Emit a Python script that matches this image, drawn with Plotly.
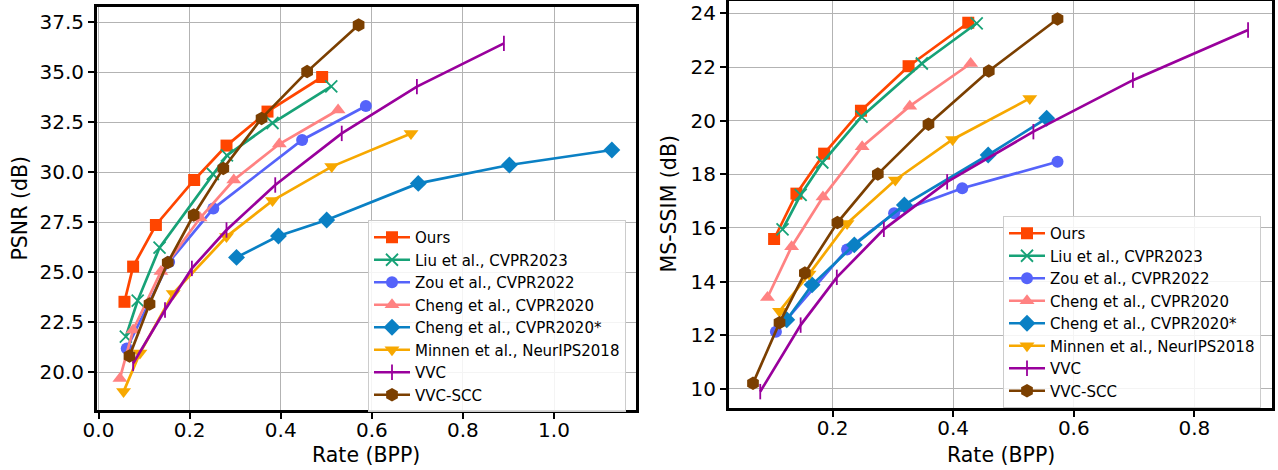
import plotly.graph_objects as go

# ---------------- data (left: PSNR, right: MS-SSIM) ----------------
names = ["Ours", "Liu et al., CVPR2023", "Zou et al., CVPR2022", "Cheng et al., CVPR2020",
         "Cheng et al., CVPR2020*", "Minnen et al., NeurIPS2018", "VVC", "VVC-SCC"]

ours_l_x = [0.057, 0.076, 0.126, 0.210, 0.281, 0.371, 0.491]
ours_l_y = [23.51, 25.27, 27.35, 29.60, 31.32, 33.02, 34.75]
liu_l_x = [0.060, 0.086, 0.134, 0.251, 0.282, 0.382, 0.511]
liu_l_y = [21.77, 23.57, 26.22, 29.90, 30.83, 32.45, 34.28]
zou_l_x = [0.062, 0.155, 0.252, 0.447, 0.587]
zou_l_y = [21.18, 25.50, 28.17, 31.60, 33.30]
cheng_l_x = [0.047, 0.076, 0.137, 0.223, 0.297, 0.397, 0.526]
cheng_l_y = [19.68, 22.10, 25.02, 27.70, 29.60, 31.40, 33.10]
chengs_l_x = [0.303, 0.395, 0.501, 0.702, 0.902, 1.127]
chengs_l_y = [25.73, 26.80, 27.60, 29.43, 30.35, 31.10]
minnen_l_x = [0.055, 0.091, 0.164, 0.281, 0.382, 0.512, 0.686]
minnen_l_y = [19.02, 20.95, 23.93, 26.77, 28.57, 30.27, 31.93]
vvc_l_x = [0.076, 0.146, 0.205, 0.281, 0.388, 0.534, 0.699, 0.890]
vvc_l_y = [20.43, 23.10, 25.18, 27.10, 29.35, 31.93, 34.27, 36.43]
scc_l_x = [0.068, 0.112, 0.152, 0.209, 0.274, 0.358, 0.458, 0.571]
scc_l_y = [20.80, 23.40, 25.47, 27.85, 30.18, 32.68, 35.02, 37.35]

ours_r_x = [0.103, 0.140, 0.186, 0.247, 0.326, 0.425]
ours_r_y = [15.59, 17.28, 18.77, 20.37, 22.03, 23.65]
liu_r_x = [0.117, 0.147, 0.183, 0.248, 0.348, 0.439]
liu_r_y = [15.95, 17.23, 18.44, 20.15, 22.13, 23.63]
zou_r_x = [0.106, 0.224, 0.302, 0.415, 0.573]
zou_r_y = [12.13, 15.20, 16.55, 17.48, 18.47]
cheng_r_x = [0.092, 0.132, 0.184, 0.249, 0.328, 0.429]
cheng_r_y = [13.41, 15.30, 17.15, 19.03, 20.54, 22.13]
chengs_r_x = [0.124, 0.166, 0.236, 0.319, 0.458, 0.555]
chengs_r_y = [12.58, 13.88, 15.37, 16.86, 18.72, 20.09]
minnen_r_x = [0.112, 0.161, 0.224, 0.304, 0.399, 0.527]
minnen_r_y = [12.90, 14.28, 16.17, 17.79, 19.30, 20.83]
vvc_r_x = [0.080, 0.147, 0.207, 0.285, 0.390, 0.533, 0.698, 0.889]
vvc_r_y = [9.90, 12.38, 14.16, 15.95, 17.72, 19.59, 21.51, 23.38]
scc_r_x = [0.068, 0.112, 0.154, 0.208, 0.275, 0.359, 0.459, 0.573]
scc_r_y = [10.21, 12.47, 14.32, 16.20, 18.01, 19.87, 21.85, 23.79]

left_x = [ours_l_x, liu_l_x, zou_l_x, cheng_l_x, chengs_l_x, minnen_l_x, vvc_l_x, scc_l_x]
left_y = [ours_l_y, liu_l_y, zou_l_y, cheng_l_y, chengs_l_y, minnen_l_y, vvc_l_y, scc_l_y]
right_x = [ours_r_x, liu_r_x, zou_r_x, cheng_r_x, chengs_r_x, minnen_r_x, vvc_r_x, scc_r_x]
right_y = [ours_r_y, liu_r_y, zou_r_y, cheng_r_y, chengs_r_y, minnen_r_y, vvc_r_y, scc_r_y]

x_title = "Rate (BPP)"
y_title_left = "PSNR (dB)"
y_title_right = "MS-SSIM (dB)"

# ---------------- styles ----------------
colors = ["#ff4500", "#17a277", "#5563fa", "#ff8282", "#0a80c4", "#f7a800", "#99009c", "#7b3f00"]
symbols = ["square", "x-thin-open", "circle", "triangle-up", "diamond",
           "triangle-down", "line-ns-open", "hexagon"]
sizes = [12, 12, 12, 13, 13, 13, 11, 13.5]

W, H = 1278, 470
fig = go.Figure()


def add_set(xs, ys, xa, ya, legend):
    for i in range(len(names)):
        open_sym = symbols[i].endswith("open")
        fig.add_trace(go.Scatter(
            x=xs[i], y=ys[i], name=names[i], mode="lines+markers",
            xaxis=xa, yaxis=ya, legend=legend,
            line=dict(color=colors[i], width=2.7),
            marker=dict(symbol=symbols[i], size=sizes[i], color=colors[i],
                        line=dict(color=colors[i], width=1.8 if open_sym else 0)),
        ))


add_set(left_x, left_y, "x", "y", "legend")
add_set(right_x, right_y, "x2", "y2", "legend2")

font_family = "DejaVu Sans"
axis_common = dict(
    showline=True, linewidth=3, linecolor="black", mirror=True,
    ticks="outside", ticklen=6, tickwidth=2, tickcolor="black",
    showgrid=True, gridcolor="#b3b3b3", gridwidth=1.2, zeroline=False,
    tickfont=dict(family=font_family, size=20, color="black"),
    automargin=False,
)
title_font = dict(family=font_family, size=20.5, color="black")

legend_common = dict(
    bgcolor="rgba(255,255,255,0.85)", bordercolor="#cccccc", borderwidth=1,
    font=dict(family=font_family, size=15, color="black"),
    xanchor="left", yanchor="top", tracegroupgap=0, itemwidth=36,
)

lx0, lx1, ly0, ly1 = 97, 636, 7, 410
rx0, rx1, ry0, ry1 = 729, 1272, 1, 408

fig.update_layout(
    width=W, height=H,
    margin=dict(l=0, r=0, t=0, b=0),
    paper_bgcolor="white", plot_bgcolor="white",
    font=dict(family=font_family, color="black"),
    xaxis=dict(domain=[lx0 / W, lx1 / W], range=[-0.0033, 1.180], tick0=0, dtick=0.2,
               tickformat=".1f", anchor="y", ticklabelstandoff=-6, **axis_common),
    yaxis=dict(domain=[1 - ly1 / H, 1 - ly0 / H], range=[18.1, 38.25], tick0=20, dtick=2.5,
               tickformat=".1f", anchor="x", **axis_common),
    xaxis2=dict(domain=[rx0 / W, rx1 / W], range=[0.0282, 0.9287], tick0=0, dtick=0.2,
                tickformat=".1f", anchor="y2", ticklabelstandoff=-6, **axis_common),
    yaxis2=dict(domain=[1 - ry1 / H, 1 - ry0 / H], range=[9.29, 24.46], tick0=10, dtick=2,
                tickformat="d", anchor="x2", **axis_common),
    legend=dict(x=368 / W, y=1 - 220 / H, **legend_common),
    legend2=dict(x=1003 / W, y=1 - 216 / H, **legend_common),
)

# axis titles placed as paper annotations
fig.add_annotation(text=x_title, x=(lx0 + lx1) / 2 / W, y=1 - 455 / H, xref="paper", yref="paper",
                   showarrow=False, font=title_font, xanchor="center", yanchor="middle")
fig.add_annotation(text=x_title, x=(rx0 + rx1) / 2 / W, y=1 - 455 / H, xref="paper", yref="paper",
                   showarrow=False, font=title_font, xanchor="center", yanchor="middle")
fig.add_annotation(text=y_title_left, x=19 / W, y=1 - (ly0 + ly1) / 2 / H, xref="paper", yref="paper",
                   showarrow=False, font=title_font, textangle=-90, xanchor="center", yanchor="middle")
fig.add_annotation(text=y_title_right, x=668 / W, y=1 - (ry0 + ry1) / 2 / H, xref="paper", yref="paper",
                   showarrow=False, font=title_font, textangle=-90, xanchor="center", yanchor="middle")

fig.write_html("out.html", config={"displayModeBar": False},
               post_script="document.body.style.margin='0';document.body.style.overflow='hidden';")
